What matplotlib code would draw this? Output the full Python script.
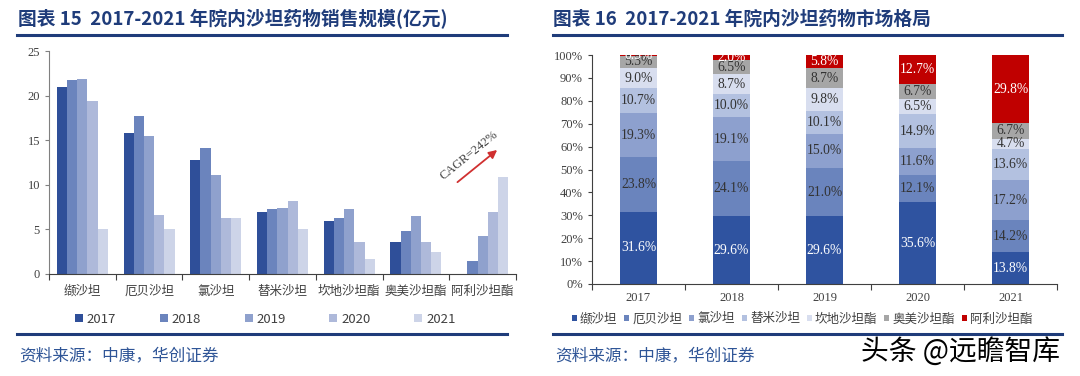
import matplotlib.pyplot as plt
import numpy as np

plt.rcParams['font.family'] = ['Noto Sans CJK SC', 'DejaVu Sans']

# left chart: sales by drug (100m yuan)
drugs = ['缬沙坦', '厄贝沙坦', '氯沙坦', '替米沙坦', '坎地沙坦酯', '奥美沙坦酯', '阿利沙坦酯']
years = ['2017', '2018', '2019', '2020', '2021']
sales_2017 = [21.0, 15.8, 12.8, 7.0, 5.9, 3.6, 0.0]
sales_2018 = [21.8, 17.7, 14.1, 7.3, 6.3, 4.8, 1.5]
sales_2019 = [21.9, 15.5, 11.1, 7.4, 7.3, 6.5, 4.3]
sales_2020 = [19.4, 6.6, 6.3, 8.2, 3.6, 3.6, 6.9]
sales_2021 = [5.0, 5.1, 6.3, 5.0, 1.7, 2.5, 10.9]
sales = [sales_2017, sales_2018, sales_2019, sales_2020, sales_2021]

# right chart: market share (%) by year
share_xu = [31.6, 29.6, 29.6, 35.6, 13.8]
share_eb = [23.8, 24.1, 21.0, 12.1, 14.2]
share_lv = [19.3, 19.1, 15.0, 11.6, 17.2]
share_tm = [10.7, 10.0, 10.1, 14.9, 13.6]
share_kd = [9.0, 8.7, 9.8, 6.5, 4.7]
share_am = [5.3, 6.5, 8.7, 6.7, 6.7]
share_al = [0.3, 2.0, 5.8, 12.7, 29.8]
shares = [share_xu, share_eb, share_lv, share_tm, share_kd, share_am, share_al]

title_blue = '#1F3C7A'
left_colors = ['#2F4F99', '#6B84BD', '#8FA1CD', '#AEB9DA', '#CDD4E8']
right_colors = ['#2F53A0', '#6A84BD', '#8DA0CE', '#B3C1E0', '#D8DEEF', '#A6A6A6', '#C00000']
serif = 'Liberation Serif'

fig = plt.figure(figsize=(10.8, 3.76), dpi=100)

# titles, rules, source
fig.text(18 / 1080, 1 - 19 / 376, '图表 15  2017-2021 年院内沙坦药物销售规模(亿元)',
         fontsize=13.5, fontweight='bold', color=title_blue, va='center')
fig.text(553 / 1080, 1 - 19 / 376, '图表 16  2017-2021 年院内沙坦药物市场格局',
         fontsize=13.5, fontweight='bold', color=title_blue, va='center')
for x0, x1 in [(17, 507), (553, 1062)]:
    fig.add_artist(plt.Line2D([x0 / 1080, x1 / 1080], [1 - 35 / 376] * 2, color=title_blue, lw=2.2))
    fig.add_artist(plt.Line2D([x0 / 1080, x1 / 1080], [1 - 334 / 376] * 2, color=title_blue, lw=2.2))
    fig.text((x0 + 2) / 1080, 1 - 356 / 376, '资料来源：中康，华创证券', fontsize=12,
             color='#2F5597', style='italic', va='center')
fig.text(1060 / 1080, 1 - 352 / 376, '头条 @远瞻智库', fontsize=20, color='black',
         ha='right', va='center')

# left chart
ax1 = fig.add_axes([49 / 1080, 102 / 376, 467 / 1080, 223 / 376])
x = np.arange(len(drugs))
w = 0.153
for i, (yr, vals) in enumerate(zip(years, sales)):
    ax1.bar(x + (i - 2) * w, vals, w, color=left_colors[i], label=yr)
ax1.set_xlim(-0.5, len(drugs) - 0.5)
ax1.set_ylim(0, 25)
ax1.set_yticks([0, 5, 10, 15, 20, 25])
ax1.set_xticks(np.arange(len(drugs) + 1) - 0.5)
ax1.set_xticklabels([])
ax1.set_xticks(x, minor=True)
ax1.set_xticklabels(drugs, minor=True, fontsize=9, color='#404040')
ax1.tick_params(axis='x', which='minor', length=0, pad=8)
ax1.tick_params(axis='x', which='major', length=4, color='#404040')
ax1.tick_params(axis='y', length=3, labelsize=9, color='#808080', labelcolor='#404040')
for lab in ax1.get_yticklabels():
    lab.set_family(serif)
for s in ['top', 'right']:
    ax1.spines[s].set_visible(False)
ax1.spines['left'].set_color('#808080')
ax1.spines['bottom'].set_color('#404040')
ax1.legend(loc='upper center', bbox_to_anchor=(0.463, -0.12), ncol=5, frameon=False,
           fontsize=9.5, handlelength=0.6, handleheight=0.6, handletextpad=0.3,
           columnspacing=3.3, labelcolor='#404040')
ax1.annotate('', xy=(6.25, 14.1), xytext=(5.59, 10.1),
             arrowprops=dict(arrowstyle='-|>', color='#D03030', lw=1.3, mutation_scale=12))
ax1.text(5.8, 13.3, 'CAGR=242%', rotation=39, fontsize=9, family=serif,
         color='#404040', ha='center', va='center')

# right chart
ax2 = fig.add_axes([592 / 1080, 92 / 376, 465 / 1080, 229 / 376])
xr = np.arange(len(years))
bottom = np.zeros(len(years))
for j, (name, vals) in enumerate(zip(drugs, shares)):
    vals = np.array(vals)
    ax2.bar(xr, vals, 0.39, bottom=bottom, color=right_colors[j], label=name)
    txt_color = 'white' if j in (0, 6) else '#333333'
    for k in range(len(years)):
        ax2.text(xr[k], bottom[k] + vals[k] / 2, f'{vals[k]:.1f}%', ha='center', va='center',
                 fontsize=9.8, family=serif, color=txt_color)
    bottom += vals
ax2.set_xlim(-0.5, len(years) - 0.5)
ax2.set_ylim(0, 100)
ax2.set_yticks(np.arange(0, 101, 10))
ax2.set_yticklabels([f'{v}%' for v in range(0, 101, 10)], family=serif, fontsize=9, color='#404040')
ax2.set_xticks(np.arange(len(years) + 1) - 0.5)
ax2.set_xticklabels([])
ax2.set_xticks(xr, minor=True)
ax2.set_xticklabels(years, minor=True, family=serif, fontsize=9, color='#404040')
ax2.tick_params(axis='x', which='minor', length=0, pad=6)
ax2.tick_params(axis='x', which='major', length=4, color='#404040')
ax2.tick_params(axis='y', length=3, color='#404040')
for s in ['top', 'right']:
    ax2.spines[s].set_visible(False)
ax2.spines['left'].set_color('#404040')
ax2.spines['bottom'].set_color('#404040')
ax2.legend(loc='upper center', bbox_to_anchor=(0.452, -0.075), ncol=7, frameon=False,
           fontsize=9, handlelength=0.4, handleheight=0.4, handletextpad=0.25,
           columnspacing=0.55, labelcolor='#404040')

fig.savefig('out.png', dpi=100)
